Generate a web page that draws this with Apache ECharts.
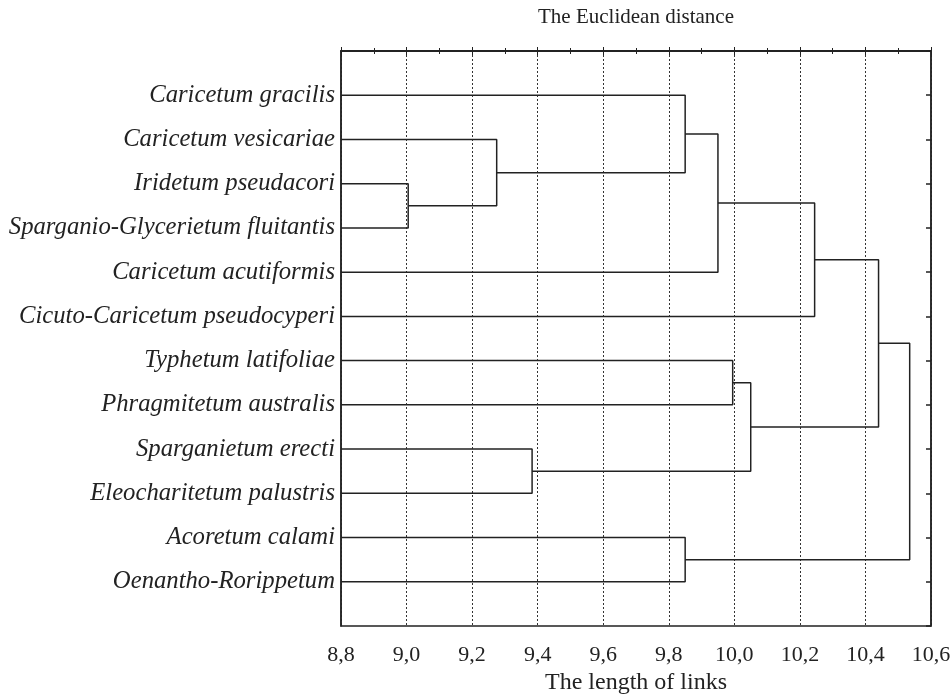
<!DOCTYPE html>
<html>
<head>
<meta charset="utf-8">
<script src="https://cdn.jsdelivr.net/npm/echarts@6/dist/echarts.min.js"></script>
<style>html,body{margin:0;padding:0;background:#fff;}#c{width:952px;height:694px;}</style>
</head>
<body>
<div id="c"></div>
<script>
// Leaves, top to bottom
const leafNames = [
  'Caricetum gracilis',
  'Caricetum vesicariae',
  'Iridetum pseudacori',
  'Sparganio-Glycerietum fluitantis',
  'Caricetum acutiformis',
  'Cicuto-Caricetum pseudocyperi',
  'Typhetum latifoliae',
  'Phragmitetum australis',
  'Sparganietum erecti',
  'Eleocharitetum palustris',
  'Acoretum calami',
  'Oenantho-Rorippetum'
];
// Linkage: nodes 0..11 are leaves, each merge creates node 12, 13, ...
const mergeLeft   = [2, 1, 0, 14, 15, 6, 8, 17, 10, 16, 21];
const mergeRight  = [3, 12, 13, 4, 5, 7, 9, 18, 11, 19, 20];
const mergeHeight = [9.005, 9.275, 9.85, 9.95, 10.245, 9.995, 9.383, 10.05, 9.85, 10.44, 10.535];
const xTicks = [8.8, 9.0, 9.2, 9.4, 9.6, 9.8, 10.0, 10.2, 10.4, 10.6];

const xMin = xTicks[0], xMax = xTicks[xTicks.length - 1];
const nodeY = [], nodeH = [];
leafNames.forEach((n, i) => { nodeY.push(i + 1); nodeH.push(xMin); });
const series = [];
mergeLeft.forEach((a, k) => {
  const b = mergeRight[k], h = mergeHeight[k];
  series.push({
    type: 'line', silent: true, symbol: 'none', animation: false,
    lineStyle: { color: '#222', width: 1.5 },
    data: [[nodeH[a], nodeY[a]], [h, nodeY[a]], [h, nodeY[b]], [nodeH[b], nodeY[b]]]
  });
  nodeY.push((nodeY[a] + nodeY[b]) / 2);
  nodeH.push(h);
});

const serif = 'Liberation Serif';
const chart = echarts.init(document.getElementById('c'));
chart.setOption({
  animation: false,
  grid: { left: 341, right: 21, top: 51, bottom: 68, show: true, borderColor: '#222', borderWidth: 1.5,
    containLabel: false, outerBoundsMode: 'none' },
  xAxis: [{
    type: 'value', min: xMin, max: xMax, interval: 0.2, position: 'bottom',
    name: 'The length of links', nameLocation: 'middle', nameGap: 41,
    nameTextStyle: { fontFamily: serif, fontSize: 24, color: '#222' },
    axisLine: { show: true, lineStyle: { color: '#222', width: 1.5 } },
    axisTick: { show: true, inside: true, length: 4, lineStyle: { color: '#222' } },
    minorTick: { show: true, splitNumber: 2, length: 3, lineStyle: { color: '#222' } },
    axisLabel: { fontFamily: serif, fontSize: 22, color: '#222', margin: 18,
      formatter: v => v.toFixed(1).replace('.', ',') },
    splitLine: { show: true, lineStyle: { color: '#333', width: 1, type: [2, 2] } }
  }, {
    type: 'value', min: xMin, max: xMax, interval: 0.2, position: 'top',
    name: 'The Euclidean distance', nameLocation: 'middle', nameGap: 23,
    nameTextStyle: { fontFamily: serif, fontSize: 21, color: '#222' },
    axisLine: { show: true, lineStyle: { color: '#222', width: 1.5 } },
    axisTick: { show: true, inside: true, length: 4, lineStyle: { color: '#222' } },
    minorTick: { show: true, splitNumber: 2, length: 3, lineStyle: { color: '#222' } },
    axisLabel: { show: false },
    splitLine: { show: false }
  }],
  yAxis: [{
    type: 'value', min: 0, max: leafNames.length + 1, interval: 1, inverse: true, position: 'left',
    axisLine: { show: true, lineStyle: { color: '#222', width: 1.5 } },
    axisTick: { show: false },
    splitLine: { show: false },
    axisLabel: { fontFamily: serif, fontStyle: 'italic', fontSize: 24.7, color: '#222', margin: 6,
      formatter: v => (v >= 1 && v <= leafNames.length) ? leafNames[v - 1] : '' }
  }, {
    type: 'value', min: 0, max: leafNames.length + 1, interval: 1, inverse: true, position: 'right',
    axisLine: { show: true, lineStyle: { color: '#222', width: 1.5 } },
    axisTick: { show: true, inside: true, length: 5, lineStyle: { color: '#222', width: 1.5 } },
    splitLine: { show: false },
    axisLabel: { show: false }
  }],
  series: series
});
</script>
</body>
</html>
